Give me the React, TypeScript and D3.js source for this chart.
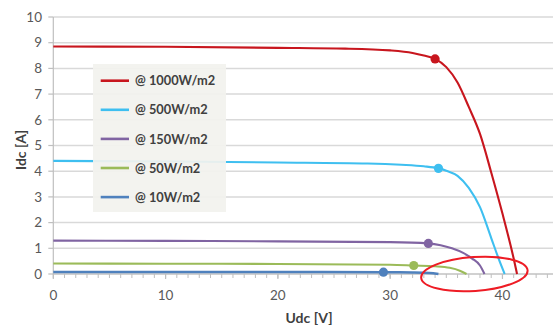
import React from "react";
import * as d3 from "d3";

const W = 553;
const H = 325;

// I-V curves for a PV module at different irradiance levels: [Udc (V), Idc (A)]
const curve1000: [number, number][] = [
  [0, 8.85], [10, 8.84], [20, 8.8], [26, 8.77], [30, 8.7], [32, 8.6], [33, 8.5],
  [34, 8.37], [35, 8.05], [36, 7.45], [37, 6.5], [38, 5.45], [39, 3.95],
  [40, 2.35], [41, 0.6], [41.3, 0],
];
const curve500: [number, number][] = [
  [0, 4.4], [10, 4.38], [20, 4.34], [28, 4.3], [31, 4.25], [33, 4.19],
  [34.3, 4.11], [35, 4.02], [36, 3.82], [37, 3.35], [38, 2.6], [39, 1.4],
  [39.7, 0.55], [40.2, 0],
];
const curve150: [number, number][] = [
  [0, 1.3], [10, 1.29], [20, 1.27], [30, 1.24], [33.4, 1.19], [34.5, 1.12],
  [35.5, 1.0], [36.5, 0.82], [37.3, 0.6], [38, 0.33], [38.4, 0],
];
const curve50: [number, number][] = [
  [0, 0.41], [10, 0.4], [20, 0.39], [30, 0.36], [32.1, 0.33], [34, 0.3],
  [35.3, 0.24], [36.2, 0.13], [36.8, 0],
];
const curve10: [number, number][] = [
  [0, 0.08], [10, 0.08], [20, 0.08], [29.4, 0.07], [32, 0.06], [33.5, 0.04],
  [34.3, 0],
];

// Maximum power points
const mppPoints: [number, number][] = [
  [34.0, 8.37], [34.3, 4.11], [33.4, 1.19], [32.1, 0.33], [29.4, 0.07],
];

const seriesNames = ["@ 1000W/m2", "@ 500W/m2", "@ 150W/m2", "@ 50W/m2", "@ 10W/m2"];
const seriesColors = ["#c8161e", "#3ebff0", "#8064a2", "#9bbb59", "#4f81bd"];
const seriesData = [curve1000, curve500, curve150, curve50, curve10];

const yTicks = [0, 1, 2, 3, 4, 5, 6, 7, 8, 9, 10];
const xTicks = [0, 10, 20, 30, 40];
const xMinorTicks = d3.range(0, 45, 1);

// Highlighted region around the open-circuit voltages
const highlight = { cx: 37.5, cy: 0, rxV: 4.75, ryA: 0.66 };

const font = "Lato, 'Open Sans', sans-serif";

export default function App() {
  const x = d3.scaleLinear().domain([0, 45]).range([53.3, 558.6]);
  const y = d3.scaleLinear().domain([0, 10]).range([274, 17]);

  const line = d3
    .line<[number, number]>()
    .x((d) => x(d[0]))
    .y((d) => y(d[1]))
    .curve(d3.curveMonotoneX);

  const legend = { x: 93, y: 64, w: 133, h: 148 };
  const rowY = (i: number) => 80.7 + i * 29.1;

  const ecx = x(highlight.cx);
  const ecy = y(highlight.cy);
  const erx = x(highlight.cx + highlight.rxV) - ecx;
  const ery = ecy - y(highlight.ryA);

  return (
    <svg
      width={W}
      height={H}
      style={{ position: "absolute", left: 0, top: 0, background: "#fff" }}
    >
      {/* horizontal gridlines */}
      {yTicks.map((t) => (
        <line
          key={"g" + t}
          x1={x(0)}
          x2={W}
          y1={y(t)}
          y2={y(t)}
          stroke="#d9d9d9"
          strokeWidth={1.5}
        />
      ))}

      {/* y axis */}
      <line x1={x(0)} x2={x(0)} y1={y(10)} y2={y(0)} stroke="#bfbfbf" strokeWidth={1.2} />
      {yTicks.map((t) => (
        <g key={"yt" + t}>
          <line x1={x(0) - 5} x2={x(0)} y1={y(t)} y2={y(t)} stroke="#bfbfbf" strokeWidth={1.2} />
          <text
            x={42}
            y={y(t)}
            dy="0.35em"
            textAnchor="end"
            fontFamily={font}
            fontSize={13.5}
            fill="#595959"
          >
            {t}
          </text>
        </g>
      ))}

      {/* x axis */}
      <line x1={x(0)} x2={W} y1={y(0)} y2={y(0)} stroke="#bfbfbf" strokeWidth={1.2} />
      {xMinorTicks.map((t) => (
        <line
          key={"xm" + t}
          x1={x(t)}
          x2={x(t)}
          y1={y(0)}
          y2={y(0) + 4}
          stroke="#bfbfbf"
          strokeWidth={1}
        />
      ))}
      {xTicks.map((t) => (
        <g key={"xt" + t}>
          <line x1={x(t)} x2={x(t)} y1={y(0)} y2={y(0) + 5} stroke="#bfbfbf" strokeWidth={1.2} />
          <text
            x={x(t)}
            y={295}
            dy="0.35em"
            textAnchor="middle"
            fontFamily={font}
            fontSize={13.5}
            fill="#595959"
          >
            {t}
          </text>
        </g>
      ))}

      {/* curves */}
      {seriesData.map((d, i) => (
        <path
          key={"c" + i}
          d={line(d) ?? ""}
          fill="none"
          stroke={seriesColors[i]}
          strokeWidth={i === 4 ? 2.6 : 2.1}
        />
      ))}
      {mppPoints.map((p, i) => (
        <circle key={"m" + i} cx={x(p[0])} cy={y(p[1])} r={4.6} fill={seriesColors[i]} />
      ))}

      {/* legend */}
      <rect
        x={legend.x}
        y={legend.y}
        width={legend.w}
        height={legend.h}
        fill="#f2f2ee"
        fillOpacity={0.93}
      />
      {seriesNames.map((name, i) => (
        <g key={"l" + i}>
          <line
            x1={100.7}
            x2={129}
            y1={rowY(i)}
            y2={rowY(i)}
            stroke={seriesColors[i]}
            strokeWidth={2.6}
          />
          <text
            x={135}
            y={rowY(i)}
            dy="0.36em"
            fontFamily={font}
            fontWeight={700}
            fontSize={12.8}
            fill="#404040"
          >
            {name}
          </text>
        </g>
      ))}

      {/* axis titles */}
      <text
        transform={`translate(21,150) rotate(-90)`}
        textAnchor="middle"
        dy="0.35em"
        fontFamily={font}
        fontWeight={700}
        fontSize={14}
        fill="#404040"
      >
        Idc [A]
      </text>
      <text
        x={309}
        y={318}
        dy="0.35em"
        textAnchor="middle"
        fontFamily={font}
        fontWeight={700}
        fontSize={14}
        fill="#404040"
      >
        Udc [V]
      </text>

      {/* highlight ellipse */}
      <ellipse
        cx={ecx}
        cy={ecy}
        rx={erx}
        ry={ery}
        transform={`rotate(-4 ${ecx} ${ecy})`}
        fill="none"
        stroke="#ee1c25"
        strokeWidth={2}
      />
    </svg>
  );
}
